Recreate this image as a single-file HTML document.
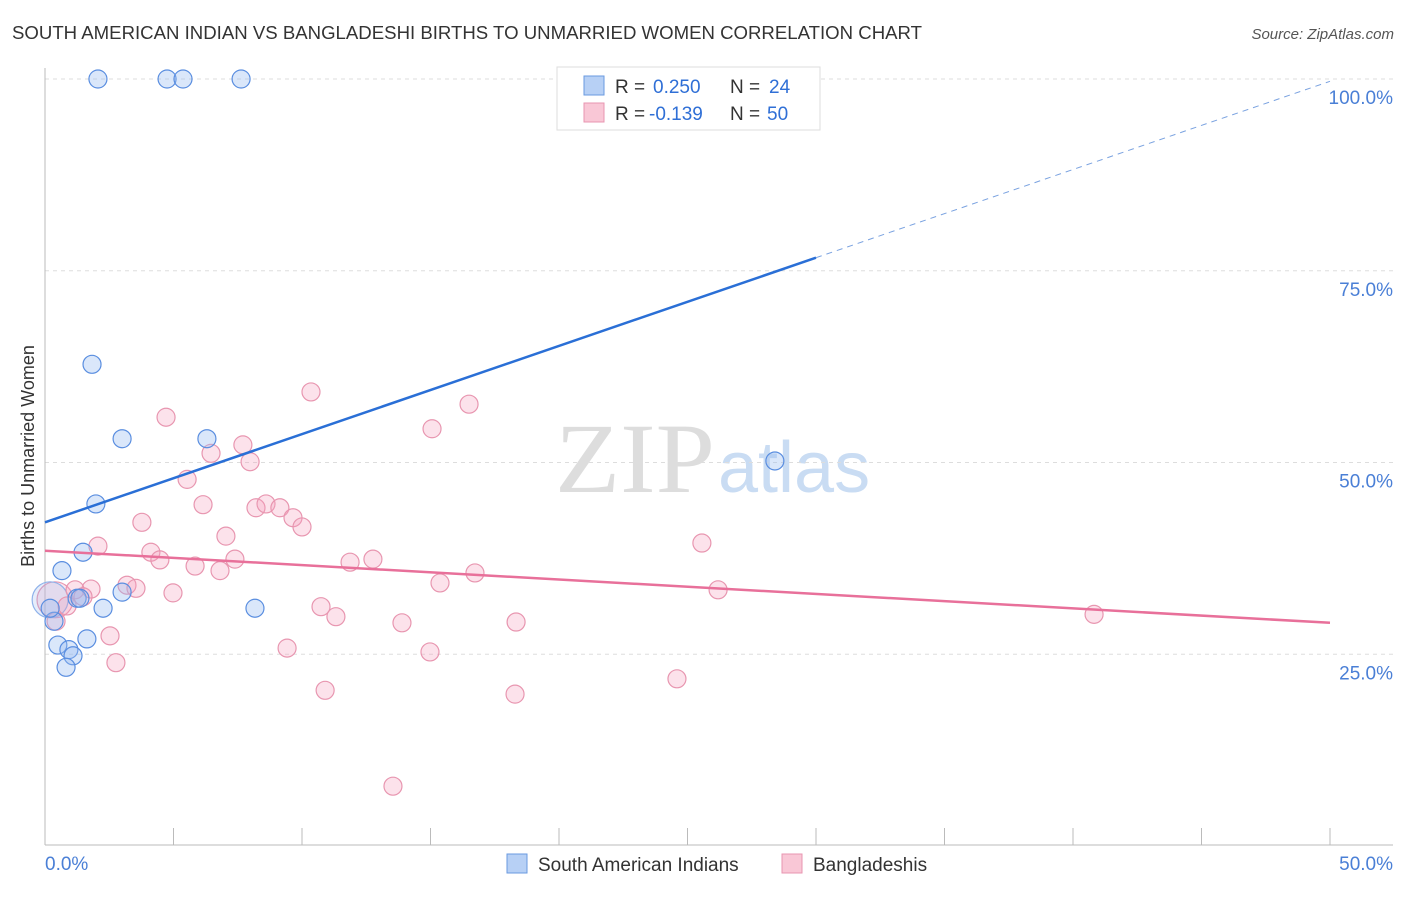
<!DOCTYPE html>
<html><head><meta charset="utf-8">
<style>
body{margin:0;background:#fff;font-family:"Liberation Sans",sans-serif;}
svg text{font-family:"Liberation Sans",sans-serif;}
</style></head>
<body>
<svg width="1406" height="892" id="chart">
<text x="12" y="39" font-size="18" fill="#333" textLength="910" lengthAdjust="spacingAndGlyphs">SOUTH AMERICAN INDIAN VS BANGLADESHI BIRTHS TO UNMARRIED WOMEN CORRELATION CHART</text>
<text x="1394" y="39" font-size="15" fill="#555" text-anchor="end" font-style="italic">Source: ZipAtlas.com</text>
<text x="555" y="492" font-size="100" fill="#ddd" textLength="160" lengthAdjust="spacingAndGlyphs" style="font-family:'Liberation Serif',serif">ZIP</text>
<text x="718" y="492" font-size="72" fill="#c9dcf3">atlas</text>
<g id="grid"></g>
<g id="axes"></g>
<g id="marks"></g>
<text transform="translate(34,456) rotate(-90)" font-size="18" fill="#333" text-anchor="middle">Births to Unmarried Women</text>
<g>
<rect x="557" y="67" width="263" height="63" fill="#fff" stroke="#ddd"/>
<rect x="584" y="76" width="20" height="19" fill="#b7d0f5" stroke="#6a9ae0"/>
<rect x="584" y="103" width="20" height="19" fill="#f9c7d6" stroke="#e896b0"/>
<text x="615" y="93" font-size="19" fill="#333">R =</text>
<text x="653" y="93" font-size="19" fill="#2f6fd6">0.250</text>
<text x="730" y="93" font-size="19" fill="#333">N =</text>
<text x="769" y="93" font-size="19" fill="#2f6fd6">24</text>
<text x="615" y="120" font-size="19" fill="#333">R =</text>
<text x="649" y="120" font-size="19" fill="#2f6fd6">-0.139</text>
<text x="730" y="120" font-size="19" fill="#333">N =</text>
<text x="767" y="120" font-size="19" fill="#2f6fd6">50</text>
</g>
<g>
<rect x="507" y="854" width="20" height="19" fill="#b7d0f5" stroke="#6a9ae0"/>
<text x="538" y="871" font-size="19" fill="#333">South American Indians</text>
<rect x="782" y="854" width="20" height="19" fill="#f9c7d6" stroke="#e896b0"/>
<text x="813" y="871" font-size="19" fill="#333">Bangladeshis</text>
</g>
</svg>
<script>
const xTicks=[0,5,10,15,20,25,30,35,40,45,50];
const yTicks=[25,50,75,100];
const yTickLabels=["25.0%","50.0%","75.0%","100.0%"];
const blueX=[2.06,4.75,5.37,7.63,1.83,3.0,6.3,1.98,28.4,1.48,0.66,3.0,1.25,1.36,2.26,8.17,0.35,0.5,1.63,0.93,1.09,0.82,0.2];
const blueY=[100,100,100,100,62.8,53.1,53.1,44.6,50.2,38.3,35.9,33.1,32.3,32.3,31.0,31.0,29.3,26.2,27.0,25.6,24.8,23.3,31.0];
const pinkX=[4.71,10.35,16.5,15.06,7.7,6.46,7.98,5.53,6.15,3.77,8.21,8.6,9.14,9.65,10.0,7.04,2.06,4.12,4.47,5.84,7.39,6.81,11.87,12.76,16.73,15.37,25.56,26.19,3.19,3.54,1.79,1.17,4.98,1.48,0.86,0.43,10.74,11.32,13.89,18.33,40.82,2.53,9.42,14.98,2.76,10.9,18.29,24.59,13.54];
const pinkY=[55.9,59.2,57.6,54.4,52.3,51.2,50.1,47.8,44.5,42.2,44.1,44.6,44.1,42.8,41.6,40.4,39.1,38.3,37.3,36.5,37.4,35.9,37.0,37.4,35.6,34.3,39.5,33.4,34.0,33.6,33.5,33.4,33.0,32.5,31.3,29.3,31.2,29.9,29.1,29.2,30.2,27.4,25.8,25.3,23.9,20.3,19.8,21.8,7.8];
const bigBlue=[0.2,32.1];
const bigPink=[0.39,32.1];
const blueTrend=[42.2,1.15];
const pinkTrend=[38.5,-0.188];
const X=v=>45+v/50*1285, Y=v=>846-v/100*767;
const NS="http://www.w3.org/2000/svg";
function mk(p,t,a){const e=document.createElementNS(NS,t);for(const k in a)e.setAttribute(k,a[k]);document.getElementById(p).appendChild(e);return e;}
yTicks.forEach((t,i)=>{
 const g=mk('grid','line',{x1:45,x2:1393,y1:Y(t),y2:Y(t),stroke:'#ddd','stroke-dasharray':'4,4'});
 
 
 const l=mk('axes','text',{x:1393,y:Y(t)+25,'font-size':19,fill:'#4a7fd6','text-anchor':'end'});
 l.textContent=yTickLabels[i];
 
 
});
let a=mk('axes','line',{x1:45,x2:45,y1:68,y2:845,stroke:'#bbb'});


a=mk('axes','line',{x1:45,x2:1393,y1:845,y2:845,stroke:'#bbb'});


xTicks.forEach(t=>{const e=mk('axes','line',{x1:X(t),x2:X(t),y1:828,y2:845,stroke:'#bbb'});
 
 });
let t=mk('axes','text',{x:45,y:870,'font-size':19,fill:'#4a7fd6'});t.textContent=xTicks[0].toFixed(1)+'%';


t=mk('axes','text',{x:1393,y:870,'font-size':19,fill:'#4a7fd6','text-anchor':'end'});t.textContent=xTicks[10].toFixed(1)+'%';


function dot(x,y,r,f,s){const c=mk('marks','circle',{cx:X(x),cy:Y(y),r:r,fill:f,stroke:s,'stroke-width':1.2});
 
 }
dot(bigPink[0],bigPink[1],18,'rgba(244,160,188,0.25)','#e896b0');
dot(bigBlue[0],bigBlue[1],18,'rgba(150,185,240,0.25)','#8fb2ea');
pinkX.forEach((x,i)=>dot(x,pinkY[i],9,'rgba(244,160,188,0.3)','#e896b0'));
blueX.forEach((x,i)=>dot(x,blueY[i],9,'rgba(150,185,240,0.35)','#5a8ee0'));
let l=mk('marks','line',{x1:X(0),y1:Y(blueTrend[0]),x2:X(30),y2:Y(blueTrend[0]+30*blueTrend[1]),stroke:'#2a6fd6','stroke-width':2.5});


l=mk('marks','line',{x1:X(30),y1:Y(blueTrend[0]+30*blueTrend[1]),x2:X(50),y2:Y(blueTrend[0]+50*blueTrend[1]),stroke:'#7aa2e0','stroke-width':1,'stroke-dasharray':'6,5'});


l=mk('marks','line',{x1:X(0),y1:Y(pinkTrend[0]),x2:X(50),y2:Y(pinkTrend[0]+50*pinkTrend[1]),stroke:'#e8709a','stroke-width':2.5});


</script>
</body></html>
